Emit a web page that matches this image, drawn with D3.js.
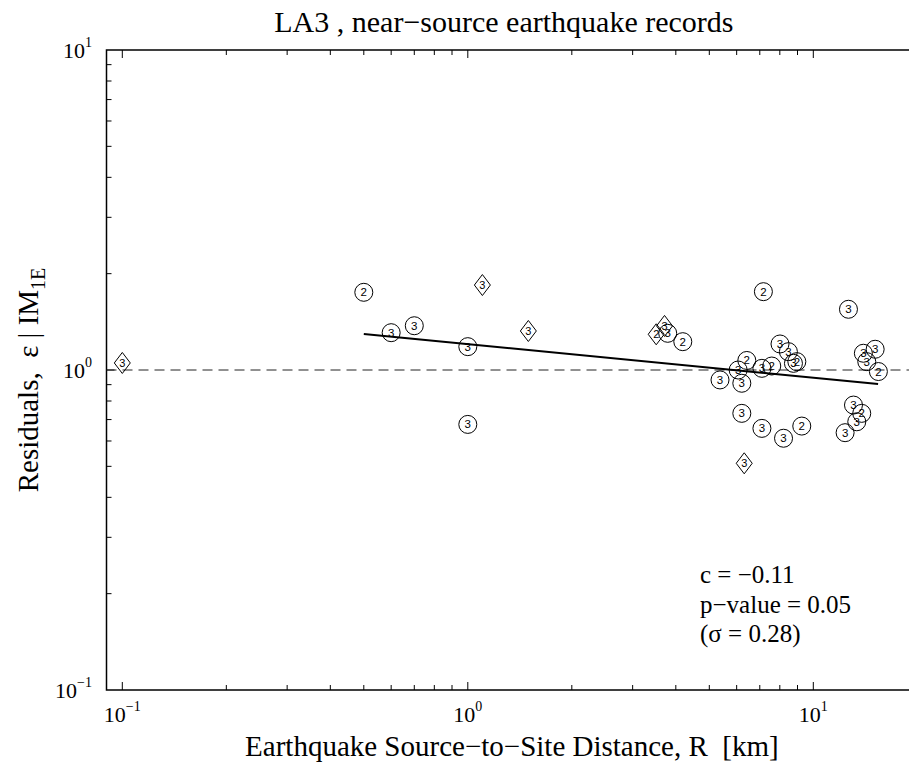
<!DOCTYPE html>
<html><head><meta charset="utf-8">
<script src="https://cdn.jsdelivr.net/npm/d3@7"></script>
<style>body{margin:0;background:#fff} svg{display:block} text{white-space:pre}</style>
</head><body><svg id="c" width="909" height="765"></svg>
<script>
// ---- data ----
const circleR     = [0.50, 0.60, 0.70, 1.00, 1.00, 3.79, 4.19, 7.17, 12.64, 8.01, 8.47, 6.42, 6.06, 5.37, 6.21, 7.10, 7.58, 8.76, 8.96, 6.21, 7.10, 8.20, 9.26, 13.96, 15.10, 14.28, 15.43, 13.07, 13.81, 13.36, 12.36];
const circleEps   = [1.749, 1.308, 1.375, 1.183, 0.676, 1.302, 1.226, 1.757, 1.548, 1.206, 1.141, 1.071, 1.000, 0.931, 0.909, 1.012, 1.029, 1.049, 1.062, 0.732, 0.657, 0.612, 0.668, 1.128, 1.161, 1.062, 0.989, 0.777, 0.732, 0.689, 0.637];
const circleLabel = ["2","3","3","3","3","3","2","2","3","3","3","2","3","3","3","3","2","3","2","3","3","3","2","3","3","3","2","3","2","3","3"];
const diamondR     = [0.10, 1.102, 1.497, 3.51, 3.71, 6.31];
const diamondEps   = [1.052, 1.843, 1.324, 1.293, 1.373, 0.511];
const diamondLabel = ["3","3","3","2","3","3"];
const fitR   = [0.50, 15.4];
const fitEps = [1.296, 0.904];
const refEps = [1, 1];
const xDomain = [0.09, 20];
const yDomain = [0.1, 10];
const xMajor = [0.1, 1, 10];
const xMajorExp = ["\u22121", "0", "1"];
const yMajor = [0.1, 1, 10];
const yMajorExp = ["\u22121", "0", "1"];
const annotations = ["c = \u22120.11", "p\u2212value = 0.05", "(\u03c3 = 0.28)"];
const titleText = "LA3 , near\u2212source earthquake records";
const xLabelText = "Earthquake Source\u2212to\u2212Site Distance, R\u00a0 [km]";

// ---- layout ----
const L = 106.5, T = 50, B = 690;
const decadePx = 345.5;
const R = L + decadePx * Math.log10(xDomain[1] / xDomain[0]);
const serif = "'Liberation Serif','Times New Roman',serif";
const sans = "'Liberation Sans',Arial,sans-serif";

const svg = d3.select("#c");
const x = d3.scaleLog().domain(xDomain).range([L, R]);
const y = d3.scaleLog().domain(yDomain).range([B, T]);

const xTicks = x.ticks().filter(v => v > xDomain[0] * 1.001 && v < xDomain[1] * 0.999);
const yTicks = y.ticks().filter(v => v > yDomain[0] * 1.001 && v < yDomain[1] * 0.999);
const isMajor = v => Math.abs(Math.log10(v) - Math.round(Math.log10(v))) < 1e-6;

const g = svg.append("g");
const tickG = g.append("g").attr("stroke", "#000").attr("stroke-width", 1);
xTicks.forEach(v => {
  const len = isMajor(v) ? 8 : 5;
  tickG.append("line").attr("x1", x(v)).attr("x2", x(v)).attr("y1", B).attr("y2", B - len);
  tickG.append("line").attr("x1", x(v)).attr("x2", x(v)).attr("y1", T).attr("y2", T + len);
});
yTicks.forEach(v => {
  const len = isMajor(v) ? 8 : 5;
  tickG.append("line").attr("x1", L).attr("x2", L + len).attr("y1", y(v)).attr("y2", y(v));
  tickG.append("line").attr("x1", R).attr("x2", R - len).attr("y1", y(v)).attr("y2", y(v));
});

g.append("rect").attr("x", L).attr("y", T).attr("width", R - L).attr("height", B - T)
  .attr("fill", "none").attr("stroke", "#000").attr("stroke-width", 1.5);

xMajor.forEach((v, i) => {
  const t = g.append("text").attr("x", x(v)).attr("y", 722).attr("text-anchor", "middle")
    .attr("font-family", serif).attr("font-size", 22);
  t.append("tspan").text("10");
  t.append("tspan").attr("dy", -11).attr("font-size", 14).text(xMajorExp[i]);
});
yMajor.forEach((v, i) => {
  const t = g.append("text").attr("x", 92).attr("y", y(v) + 8).attr("text-anchor", "end")
    .attr("font-family", serif).attr("font-size", 22);
  t.append("tspan").text("10");
  t.append("tspan").attr("dy", -11).attr("font-size", 14).text(yMajorExp[i]);
});

const line = d3.line().x(d => x(d[0])).y(d => y(d[1]));
g.append("path").datum([[xDomain[0], refEps[0]], [xDomain[1], refEps[1]]])
  .attr("d", line).attr("fill", "none").attr("stroke", "#222").attr("stroke-width", 1)
  .attr("stroke-dasharray", "10,6");

g.append("path").datum(fitR.map((r, i) => [r, fitEps[i]]))
  .attr("d", line).attr("fill", "none").attr("stroke", "#000").attr("stroke-width", 2);

const circles = circleR.map((r, i) => ({r, e: circleEps[i], lab: circleLabel[i]}));
const cg = g.append("g").selectAll("g").data(circles).join("g")
  .attr("transform", d => `translate(${x(d.r)},${y(d.e)})`);
cg.append("circle").attr("r", 9).attr("fill", "none").attr("stroke", "#000").attr("stroke-width", 1);
cg.append("text").attr("text-anchor", "middle").attr("dy", 4).attr("font-family", sans)
  .attr("font-size", 11.5).text(d => d.lab);

const diamonds = diamondR.map((r, i) => ({r, e: diamondEps[i], lab: diamondLabel[i]}));
const dg = g.append("g").selectAll("g").data(diamonds).join("g")
  .attr("transform", d => `translate(${x(d.r)},${y(d.e)})`);
dg.append("path").attr("d", "M0,-10.5L8,0L0,10.5L-8,0Z").attr("fill", "none")
  .attr("stroke", "#000").attr("stroke-width", 1);
dg.append("text").attr("text-anchor", "middle").attr("dy", 4).attr("font-family", sans)
  .attr("font-size", 11).text(d => d.lab);

annotations.forEach((s, i) => {
  g.append("text").attr("x", 700).attr("y", 583 + i * 29.5).attr("font-family", serif)
    .attr("font-size", 25).text(s);
});

const cx = (L + R) / 2;
g.append("text").attr("x", cx - 8).attr("y", 32).attr("text-anchor", "middle")
  .attr("font-family", serif).attr("font-size", 30).text(titleText);

g.append("text").attr("x", cx).attr("y", 756).attr("text-anchor", "middle")
  .attr("font-family", serif).attr("font-size", 29).text(xLabelText);

const yl = g.append("text").attr("transform", `translate(38,${(T + B) / 2 + 10}) rotate(-90)`)
  .attr("text-anchor", "middle").attr("font-family", serif).attr("font-size", 29);
yl.append("tspan").text("Residuals,\u00a0 \u03b5 | IM");
yl.append("tspan").attr("dy", 7).attr("font-size", 20).text("1E");
</script></body></html>
